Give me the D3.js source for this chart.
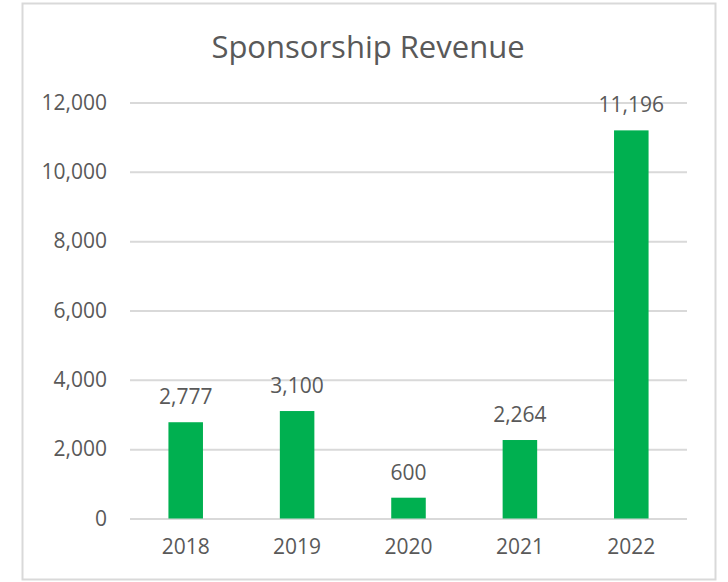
<!DOCTYPE html>
<html>
<head>
<meta charset="utf-8">
<script src="https://cdn.jsdelivr.net/npm/d3@7"></script>
<style>
  html, body { margin: 0; padding: 0; background: #fff; }
  svg { display: block; }
  text { font-family: "Open Sans", "Noto Sans", sans-serif; fill: #595959; }
</style>
</head>
<body>
<svg id="chart" width="728" height="582"></svg>
<script>
const title = "Sponsorship Revenue";
const categories = ["2018", "2019", "2020", "2021", "2022"];
const values = [2777, 3100, 600, 2264, 11196];
const yTicks = [0, 2000, 4000, 6000, 8000, 10000, 12000];

const svg = d3.select("#chart");

// chart frame
svg.append("rect")
  .attr("x", 22.5).attr("y", 3.5)
  .attr("width", 693).attr("height", 576)
  .attr("fill", "#fff").attr("stroke", "#d9d9d9").attr("stroke-width", 2);

const plot = { left: 130, right: 687, top: 102.5, bottom: 518.5 };

const x = d3.scaleBand()
  .domain(categories)
  .range([plot.left, plot.right])
  .paddingInner(0.69).paddingOuter(0.345);

const y = d3.scaleLinear()
  .domain([0, 12000])
  .range([plot.bottom, plot.top]);

const fmt = d3.format(",");

// gridlines
const yAxis = d3.axisLeft(y)
  .tickValues(yTicks)
  .tickSize(-(plot.right - plot.left))
  .tickPadding(23)
  .tickFormat(fmt);

const gy = svg.append("g")
  .attr("transform", `translate(${plot.left},0)`)
  .call(yAxis);
gy.select(".domain").remove();
gy.selectAll(".tick line").attr("stroke", "#d9d9d9").attr("stroke-width", 2);
gy.selectAll(".tick text")
  .attr("font-size", 21)
  .attr("fill", "#595959")
  .attr("font-family", "Open Sans, sans-serif");

// x axis labels
const xAxis = d3.axisBottom(x).tickSize(0).tickPadding(21);
const gx = svg.append("g")
  .attr("transform", `translate(0,${plot.bottom})`)
  .call(xAxis);
gx.select(".domain").remove();
gx.selectAll(".tick text")
  .attr("font-size", 21)
  .attr("fill", "#595959")
  .attr("font-family", "Open Sans, sans-serif");

// bars
svg.append("g").selectAll("rect")
  .data(values)
  .join("rect")
  .attr("x", (d, i) => x(categories[i]))
  .attr("y", d => y(d))
  .attr("width", x.bandwidth())
  .attr("height", d => y(0) - y(d))
  .attr("fill", "#00b050");

// data labels
svg.append("g").selectAll("text")
  .data(values)
  .join("text")
  .attr("x", (d, i) => x(categories[i]) + x.bandwidth() / 2)
  .attr("y", d => y(d) - 18)
  .attr("text-anchor", "middle")
  .attr("font-size", 21)
  .text(d => fmt(d));

// title
svg.append("text")
  .attr("x", 368)
  .attr("y", 58)
  .attr("text-anchor", "middle")
  .attr("font-size", 31)
  .text(title);
</script>
</body>
</html>
